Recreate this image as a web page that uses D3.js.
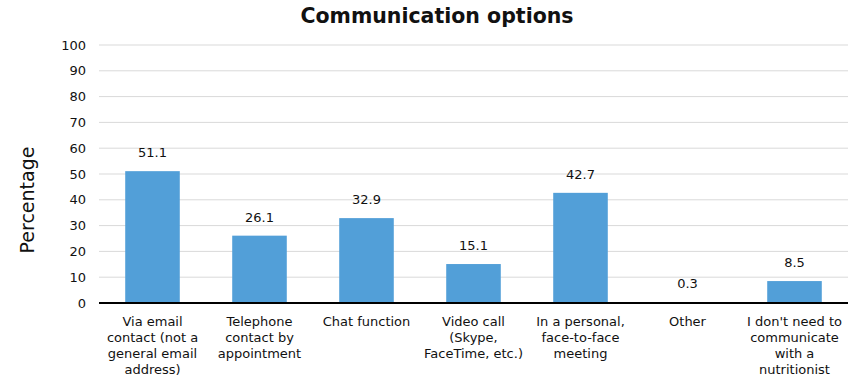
<!DOCTYPE html>
<html>
<head>
<meta charset="utf-8">
<script src="https://cdn.jsdelivr.net/npm/d3@7"></script>
<style>
  body { margin: 0; background: #fff; }
  svg text { font-family: "DejaVu Sans", Verdana, sans-serif; fill: #111; }
</style>
</head>
<body>
<div id="chart"></div>
<script>
// data
var categories = [
  "Via email contact (not a general email address)",
  "Telephone contact by appointment",
  "Chat function",
  "Video call (Skype, FaceTime, etc.)",
  "In a personal, face-to-face meeting",
  "Other",
  "I don't need to communicate with a nutritionist"
];
// how each category label breaks into lines
var labelLines = [
  ["Via email", "contact (not a", "general email", "address)"],
  ["Telephone", "contact by", "appointment"],
  ["Chat function"],
  ["Video call", "(Skype,", "FaceTime, etc.)"],
  ["In a personal,", "face-to-face", "meeting"],
  ["Other"],
  ["I don't need to", "communicate", "with a", "nutritionist"]
];
var values = [51.1, 26.1, 32.9, 15.1, 42.7, 0.3, 8.5];
var yTicks = [0, 10, 20, 30, 40, 50, 60, 70, 80, 90, 100];

var margin = {top: 45, right: 4, bottom: 76, left: 99},
    width = 852 - margin.left - margin.right,
    height = 379 - margin.top - margin.bottom;

var svg = d3.select("#chart")
  .append("svg")
    .attr("width", 852)
    .attr("height", 379);

var g = svg.append("g")
    .attr("transform", "translate(" + margin.left + "," + margin.top + ")");

var x = d3.scaleBand()
  .domain(categories)
  .range([0, width])
  .paddingInner(0.49)
  .paddingOuter(0.245);

var y = d3.scaleLinear()
  .domain([0, 100])
  .range([height, 0]);

// gridlines
g.append("g")
  .selectAll("line")
  .data(yTicks.slice(1))
  .enter()
  .append("line")
    .attr("x1", 0)
    .attr("x2", width)
    .attr("y1", function(d) { return y(d); })
    .attr("y2", function(d) { return y(d); })
    .attr("stroke", "#d9d9d9")
    .attr("stroke-width", 1);

// y axis labels
var yAxis = g.append("g")
  .call(d3.axisLeft(y).tickValues(yTicks).tickSize(0).tickPadding(13));
yAxis.select(".domain").remove();
yAxis.selectAll("text").style("font-size", "13px").attr("fill", "#111");

// bars
g.selectAll("rect.bar")
  .data(values)
  .enter()
  .append("rect")
    .attr("class", "bar")
    .attr("x", function(d, i) { return x(categories[i]); })
    .attr("y", function(d) { return y(d); })
    .attr("width", x.bandwidth())
    .attr("height", function(d) { return height - y(d); })
    .attr("fill", "#529fd8");

// value labels
g.selectAll("text.val")
  .data(values)
  .enter()
  .append("text")
    .attr("class", "val")
    .attr("x", function(d, i) { return x(categories[i]) + x.bandwidth() / 2; })
    .attr("y", function(d) { return y(d) - 14; })
    .attr("text-anchor", "middle")
    .style("font-size", "13px")
    .text(function(d) { return d.toFixed(1); });

// baseline
g.append("line")
  .attr("x1", 0)
  .attr("x2", width)
  .attr("y1", height)
  .attr("y2", height)
  .attr("stroke", "#000")
  .attr("stroke-width", 2);

// category labels
var cat = g.selectAll("text.cat")
  .data(categories)
  .enter()
  .append("text")
    .attr("class", "cat")
    .attr("text-anchor", "middle")
    .attr("transform", function(d) { return "translate(" + (x(d) + x.bandwidth() / 2) + "," + (height + 23) + ")"; })
    .style("font-size", "13px");
cat.selectAll("tspan")
  .data(function(d, i) { return labelLines[i]; })
  .enter()
  .append("tspan")
    .attr("x", 0)
    .attr("dy", function(d, i) { return i === 0 ? 0 : 16; })
    .text(function(d) { return d; });

// title
svg.append("text")
  .attr("x", 437)
  .attr("y", 23)
  .attr("text-anchor", "middle")
  .style("font-size", "20.5px")
  .style("font-weight", "bold")
  .text("Communication options");

// y axis title
svg.append("text")
  .attr("transform", "translate(34,200) rotate(-90)")
  .attr("text-anchor", "middle")
  .style("font-size", "19px")
  .text("Percentage");
</script>
</body>
</html>
